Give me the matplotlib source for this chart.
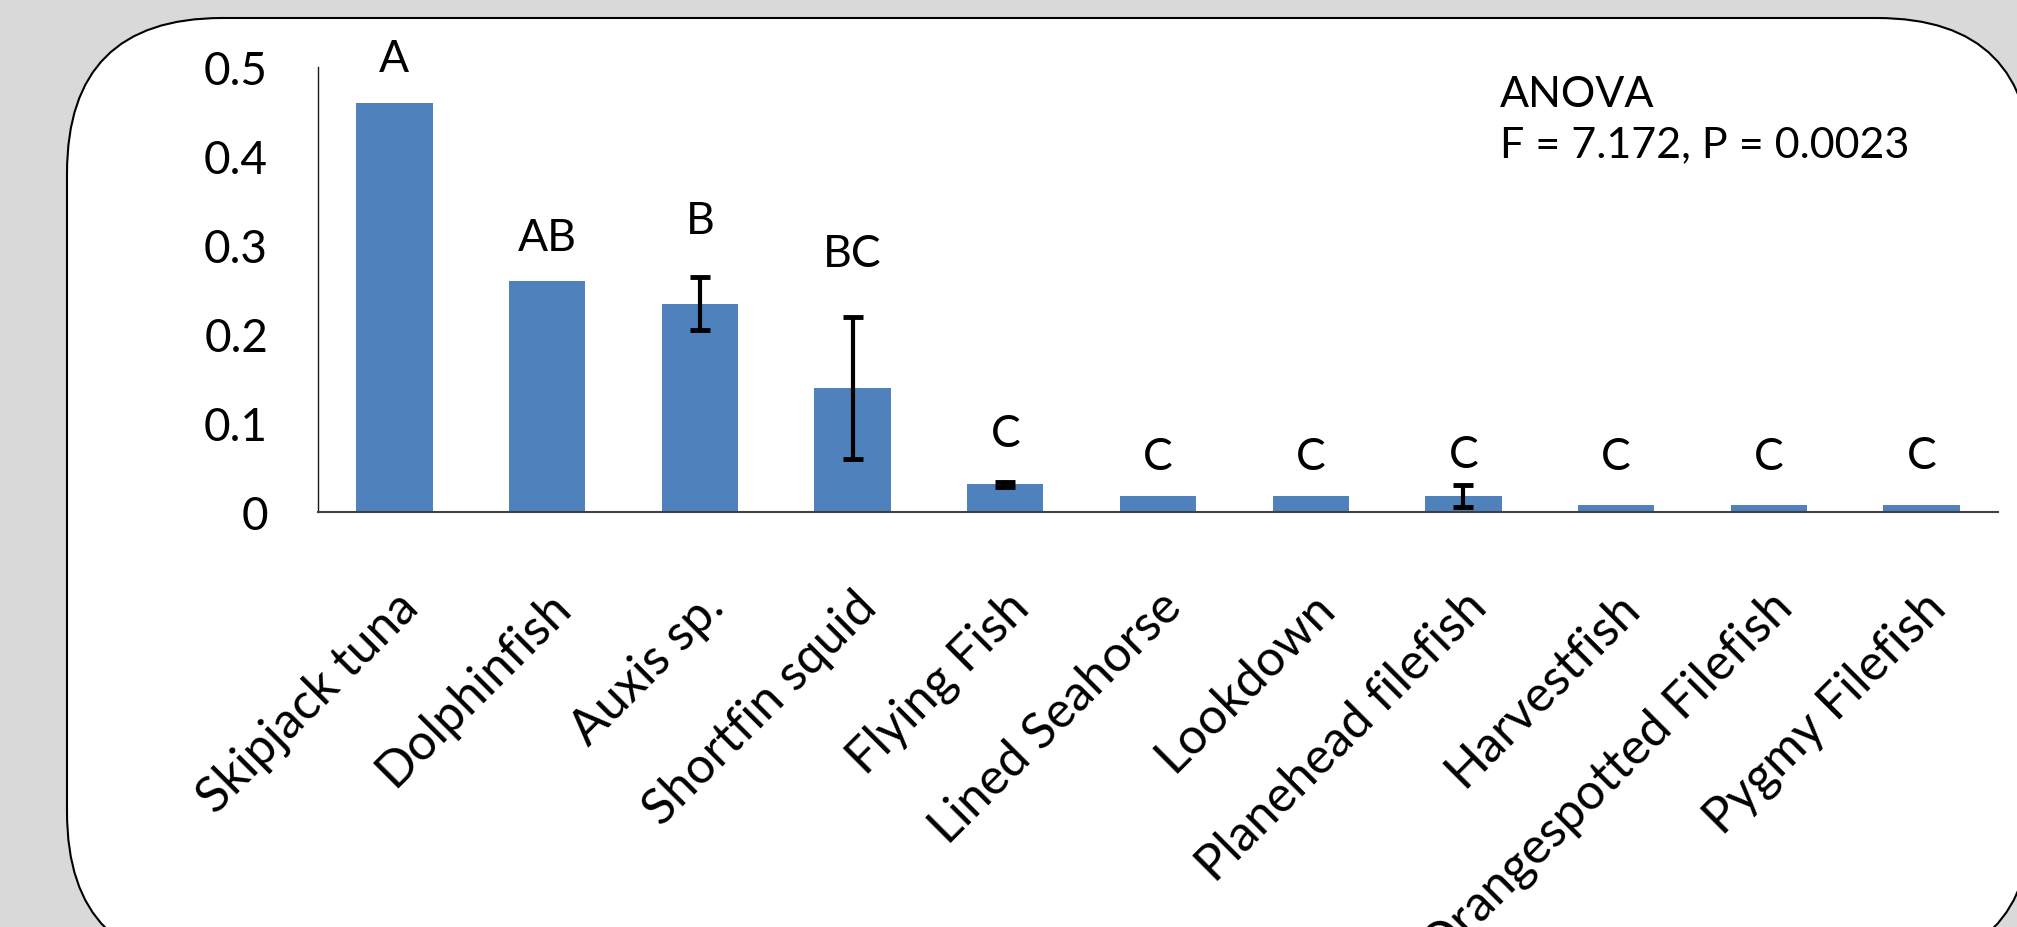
import matplotlib
matplotlib.use('Agg')
import matplotlib.pyplot as plt
from matplotlib.patches import FancyBboxPatch
import numpy as np

plt.rcParams['font.family'] = ['Lato', 'DejaVu Sans']

species = ['Skipjack tuna', 'Dolphinfish', 'Auxis sp.', 'Shortfin squid', 'Flying Fish',
           'Lined Seahorse', 'Lookdown', 'Planehead filefish', 'Harvestfish',
           'Orangespotted Filefish', 'Pygmy Filefish']
means = [0.459, 0.26, 0.234, 0.139, 0.031, 0.018, 0.018, 0.018, 0.008, 0.008, 0.008]
errors = [0, 0, 0.030, 0.080, 0.003, 0, 0, 0.012, 0, 0, 0]
groups = ['A', 'AB', 'B', 'BC', 'C', 'C', 'C', 'C', 'C', 'C', 'C']
yticks = [0, 0.1, 0.2, 0.3, 0.4, 0.5]
anova_lines = ['ANOVA', 'F = 7.172, P = 0.0023']

# heights where the group letters sit
letter_y = [0.509, 0.308, 0.327, 0.290, 0.088, 0.062, 0.062, 0.065, 0.062, 0.062, 0.063]

W, H = 2017, 928
fig = plt.figure(figsize=(W / 100, H / 100), dpi=100)
fig.patch.set_facecolor('#d9d9d9')

# rounded white panel behind the chart (inches)
panel = FancyBboxPatch((0.67, -0.40), 20.32 - 0.67, 9.09 + 0.40,
                       boxstyle='round,pad=0,rounding_size=1.55',
                       transform=fig.dpi_scale_trans, facecolor='white',
                       edgecolor='black', linewidth=1.5, zorder=-1)
fig.add_artist(panel)

ax = fig.add_axes([318 / W, 415 / H, 1680 / W, 445 / H])
ax.set_facecolor('none')

x = np.arange(len(species))
errs = np.array(errors)
ax.bar(x, means, width=0.5, color='#4f81bd', zorder=2)
has_err = errs > 0
ax.errorbar(x[has_err], np.array(means)[has_err], yerr=errs[has_err], fmt='none',
            ecolor='black', elinewidth=3, capsize=7, capthick=3.5, zorder=3)

for xi, yl, g in zip(x, letter_y, groups):
    ax.text(xi, yl, g, ha='center', va='center', fontsize=32)

ax.set_xlim(-0.5, len(species) - 0.5)
ax.set_ylim(0, 0.5)
ax.set_yticks(yticks)
ax.set_yticklabels(['0' if t == 0 else f'{t:.1f}' for t in yticks], fontsize=33)
ax.set_xticks(x)
ax.set_xticklabels(species, rotation=45, ha='right', rotation_mode='anchor', fontsize=36)
ax.tick_params(axis='y', length=0, pad=36)
ax.tick_params(axis='x', length=0, pad=51)

for side in ['top', 'right']:
    ax.spines[side].set_visible(False)
ax.spines['left'].set_color('#1a1a1a')
ax.spines['left'].set_linewidth(1.0)
ax.spines['bottom'].set_color('#404040')
ax.spines['bottom'].set_linewidth(1.5)

fig.text(1500 / W, 1 - 95 / H, anova_lines[0], ha='left', va='center', fontsize=31)
fig.text(1500 / W, 1 - 145 / H, anova_lines[1], ha='left', va='center', fontsize=31)

fig.savefig('out.png', dpi=100, facecolor=fig.get_facecolor())
